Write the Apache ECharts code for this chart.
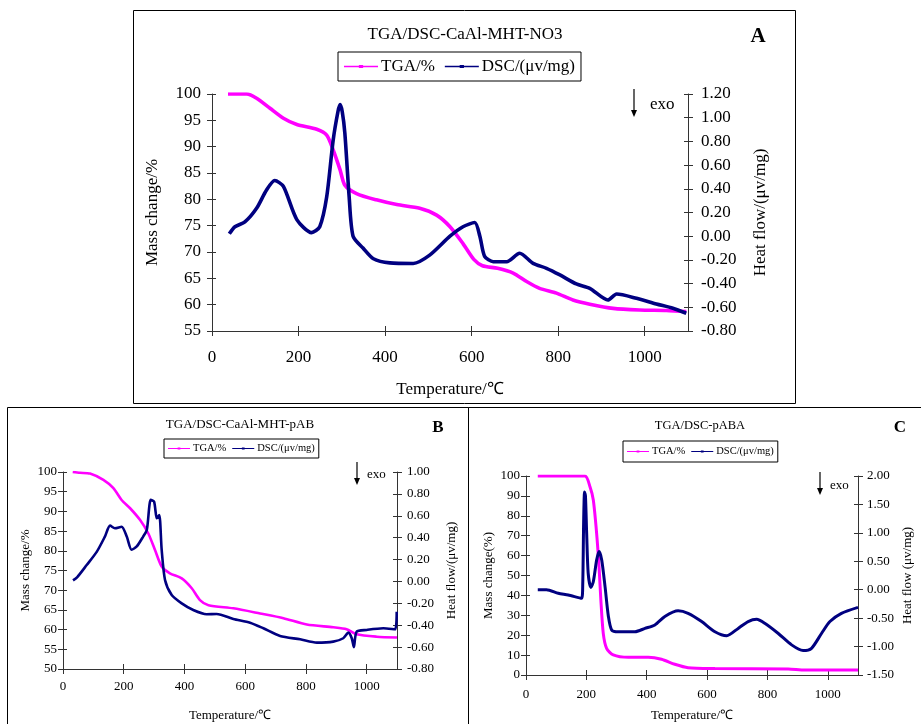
<!DOCTYPE html>
<html>
<head>
<meta charset="utf-8">
<script src="https://cdn.jsdelivr.net/npm/echarts@6/dist/echarts.min.js"></script>
<style>
  html, body { margin: 0; padding: 0; background: #fff; }
  #chart { width: 921px; height: 724px; }
</style>
</head>
<body>
<div id="chart"></div>
<script>
// ---- measured curves: [temperature °C, value] ----
const tgaA = [[37,100],[80,100],[103,99.2],[134,97.3],[165,95.4],[196,94.2],[242,93.3],[265,92.2],[280,89.4],[296,85.6],[307,82.7],[334,81.1],[380,79.9],[427,79.0],[480,78.3],[519,77.0],[550,74.8],[580,71.6],[605,68.6],[625,67.4],[660,66.9],[696,66.0],[727,64.4],[757,63.1],[796,62.2],[834,60.9],[873,60.1],[927,59.3],[988,59.0],[1050,58.9],[1096,58.7]];
const dscA = [[40,0.02],[53,0.08],[76,0.12],[103,0.235],[126,0.39],[145,0.47],[165,0.42],[196,0.14],[230,0.03],[249,0.08],[265,0.33],[280,0.81],[291,1.05],[296,1.11],[301,1.05],[307,0.87],[317,0.33],[326,0.0],[349,-0.1],[373,-0.19],[411,-0.225],[465,-0.23],[503,-0.16],[550,0.0],[580,0.08],[607,0.115],[619,0.0],[630,-0.17],[650,-0.215],[681,-0.215],[711,-0.144],[742,-0.229],[773,-0.271],[804,-0.327],[842,-0.403],[873,-0.44],[915,-0.538],[935,-0.488],[981,-0.524],[1027,-0.572],[1065,-0.608],[1096,-0.65]];

const tgaB = [[32,100],[56,99.8],[89,99.6],[133,98.0],[166,95.9],[193,92.9],[221,90.8],[254,87.8],[281,84.4],[303,80.2],[325,76.0],[352,74.3],[391,73.0],[424,70.5],[451,67.5],[479,66.2],[561,65.4],[649,64.1],[726,62.9],[803,61.3],[890,60.6],[934,60.1],[967,58.8],[1033,58.2],[1100,58.0]];
const dscB = [[33,0.01],[47,0.04],[78,0.15],[111,0.27],[138,0.41],[155,0.51],[171,0.486],[193,0.5],[210,0.41],[226,0.29],[243,0.32],[264,0.41],[276,0.47],[289,0.745],[300,0.73],[309,0.577],[317,0.607],[325,0.288],[336,0.014],[358,-0.124],[391,-0.2],[429,-0.261],[473,-0.3],[506,-0.297],[561,-0.343],[616,-0.377],[660,-0.428],[715,-0.498],[781,-0.529],[836,-0.559],[890,-0.55],[923,-0.519],[940,-0.468],[951,-0.519],[958,-0.6],[967,-0.459],[1000,-0.443],[1055,-0.428],[1094,-0.437],[1099,-0.276]];

const tgaC = [[39,100],[195,100],[212,94.6],[223,87.9],[234,71.2],[242,54.4],[248,37.7],[256,20.9],[267,13.4],[289,10.1],[339,8.9],[405,8.9],[449,7.9],[493,5.4],[537,3.7],[626,3.3],[869,3.0],[924,2.5],[1100,2.5]];
const dscC = [[39,0.0],[68,0.0],[107,-0.063],[140,-0.093],[184,-0.151],[188,0.1],[191,1.2],[194,1.72],[197,1.65],[201,0.99],[206,0.29],[215,0.04],[223,0.14],[234,0.52],[242,0.67],[251,0.52],[262,0.05],[273,-0.47],[284,-0.71],[306,-0.74],[361,-0.74],[394,-0.68],[427,-0.62],[460,-0.47],[504,-0.37],[537,-0.415],[582,-0.56],[626,-0.74],[665,-0.81],[703,-0.68],[736,-0.56],[764,-0.52],[791,-0.59],[836,-0.77],[880,-0.97],[918,-1.07],[946,-1.03],[979,-0.77],[1007,-0.56],[1045,-0.415],[1100,-0.31]];

// ---- axis ranges: [min, max, interval] ----
const tempRange = [0, 1100, 200];
const massRanges = [[55, 100, 5], [50, 100, 5], [0, 100, 10]];
const heatRanges = [[-0.8, 1.2, 0.2], [-0.8, 1.0, 0.2], [-1.5, 2.0, 0.5]];

// ---- text ----
const seriesNames = ['TGA/%', 'DSC/(μv/mg)'];
const titles = ['TGA/DSC-CaAl-MHT-NO3', 'TGA/DSC-CaAl-MHT-pAB', 'TGA/DSC-pABA'];
const letters = ['A', 'B', 'C'];
const massNames = ['Mass change/%', 'Mass change/%', 'Mass change(%)'];
const heatNames = ['Heat flow/(μv/mg)', 'Heat flow/(μv/mg)', 'Heat flow (μv/mg)'];
const tempName = 'Temperature/℃';
const exoText = 'exo';

const curves = [[tgaA, dscA], [tgaB, dscB], [tgaC, dscC]];

// ---- panel layout ----
const FONT = "'Liberation Serif', 'Times New Roman', serif";
const TGA_COLOR = '#ff00ff';
const DSC_COLOR = '#000080';
const AXIS_COLOR = '#333';

const panels = [
  { grid: { left: 212, top: 94, width: 476, height: 237 }, font: 17, nameFont: 17, lw: 3.6,
    xMargin: 18, yLMargin: 11, yRMargin: 13, gapL: 51, gapR: 64, gapB: 50,
    box: [133, 10, 662, 393], title: [465, 35, 17], letter: [758, 37, 21],
    legend: { left: 338, top: 52, font: 17, itemW: 34, gap: 10, pad: [6, 6] },
    arrow: [634, 89, 117], exo: [650, 105] },
  { grid: { left: 63, top: 472, width: 334, height: 197 }, font: 13, nameFont: 13, lw: 2.6,
    xMargin: 11, yLMargin: 6, yRMargin: 10, gapL: 31, gapR: 48, gapB: 40,
    box: [7, 407, 461, 330], title: [240, 425, 13], letter: [438, 428, 17],
    legend: { left: 164, top: 439, font: 10.5, itemW: 22, gap: 6, pad: [4, 4] },
    arrow: [357, 462, 485], exo: [367, 475] },
  { grid: { left: 526, top: 476, width: 332, height: 199 }, font: 13, nameFont: 13, lw: 3,
    xMargin: 13, yLMargin: 6, yRMargin: 9, gapL: 31, gapR: 43, gapB: 34,
    box: [468, 407, 460, 330], title: [700, 426, 12.5], letter: [900, 428, 17],
    legend: { left: 623, top: 441, font: 10.5, itemW: 22, gap: 6, pad: [5, 4] },
    arrow: [820, 472, 495], exo: [830, 486] }
];

const grids = [], xAxes = [], yAxes = [], series = [], legends = [], graphics = [];

function tickFmt(decimals) {
  return v => Number(v).toFixed(decimals);
}

panels.forEach((p, i) => {
  grids.push(Object.assign({ containLabel: false }, p.grid));
  const label = { fontFamily: FONT, fontSize: p.font, color: '#000' };
  const nameStyle = { fontFamily: FONT, fontSize: p.nameFont, color: '#000' };

  // temperature axis (outer ticks + labels) and its inner-tick twin
  const xBase = { type: 'value', gridIndex: i, min: tempRange[0], max: tempRange[1], interval: tempRange[2], splitLine: { show: false } };
  xAxes.push(Object.assign({}, xBase, {
    position: 'bottom',
    axisLine: { show: true, onZero: false, lineStyle: { color: AXIS_COLOR, width: 1 } },
    axisTick: { show: true, inside: false, length: 5, lineStyle: { color: AXIS_COLOR } },
    axisLabel: Object.assign({ margin: p.xMargin, showMaxLabel: false, formatter: tickFmt(0) }, label),
    name: tempName, nameLocation: 'middle', nameGap: p.gapB, nameTextStyle: nameStyle
  }));
  xAxes.push(Object.assign({}, xBase, {
    position: 'bottom',
    axisLine: { show: false, onZero: false },
    axisTick: { show: true, inside: true, length: 5, lineStyle: { color: AXIS_COLOR } },
    axisLabel: { show: false }
  }));

  const m = massRanges[i], h = heatRanges[i];
  const massBase = { type: 'value', gridIndex: i, min: m[0], max: m[1], interval: m[2], splitLine: { show: false } };
  const heatBase = { type: 'value', gridIndex: i, min: h[0], max: h[1], interval: h[2], splitLine: { show: false } };

  yAxes.push(Object.assign({}, massBase, {
    position: 'left',
    axisLine: { show: true, onZero: false, lineStyle: { color: AXIS_COLOR, width: 1 } },
    axisTick: { show: true, inside: false, length: 5, lineStyle: { color: AXIS_COLOR } },
    axisLabel: Object.assign({ margin: p.yLMargin, formatter: tickFmt(0) }, label),
    name: massNames[i], nameLocation: 'middle', nameRotate: 90, nameGap: p.gapL, nameTextStyle: nameStyle
  }));
  yAxes.push(Object.assign({}, massBase, {
    position: 'left', axisLine: { show: false, onZero: false },
    axisTick: { show: true, inside: true, length: 4, lineStyle: { color: AXIS_COLOR } },
    axisLabel: { show: false }
  }));
  yAxes.push(Object.assign({}, heatBase, {
    position: 'right',
    axisLine: { show: true, onZero: false, lineStyle: { color: AXIS_COLOR, width: 1 } },
    axisTick: { show: true, inside: false, length: 5, lineStyle: { color: AXIS_COLOR } },
    axisLabel: Object.assign({ margin: p.yRMargin, formatter: tickFmt(2) }, label),
    name: heatNames[i], nameLocation: 'middle', nameRotate: 90, nameGap: p.gapR, nameTextStyle: nameStyle
  }));
  yAxes.push(Object.assign({}, heatBase, {
    position: 'right', axisLine: { show: false, onZero: false },
    axisTick: { show: true, inside: true, length: 4, lineStyle: { color: AXIS_COLOR } },
    axisLabel: { show: false }
  }));

  const [tga, dsc] = curves[i];
  series.push({
    name: seriesNames[0], type: 'line', xAxisIndex: 2 * i, yAxisIndex: 4 * i,
    data: tga, showSymbol: false, smooth: 0.25, z: 3,
    lineStyle: { color: TGA_COLOR, width: p.lw }, itemStyle: { color: TGA_COLOR }
  });
  series.push({
    name: seriesNames[1], type: 'line', xAxisIndex: 2 * i, yAxisIndex: 4 * i + 2,
    data: dsc, showSymbol: false, smooth: 0.25, z: 4,
    lineStyle: { color: DSC_COLOR, width: p.lw }, itemStyle: { color: DSC_COLOR }
  });

  const L = p.legend;
  legends.push({
    left: L.left, top: L.top, orient: 'horizontal',
    data: seriesNames, selectedMode: false,
    icon: 'path://M0,3.1H40V4.9H0Z M17.5,2.2H22.5V5.8H17.5Z',
    itemWidth: L.itemW, itemHeight: 6, itemGap: L.gap,
    padding: L.pad, borderColor: '#000', borderWidth: 1,
    textStyle: { fontFamily: FONT, fontSize: L.font, color: '#000', padding: [0, 0, 0, -2] }
  });

  // panel frame, title, letter, exo arrow
  graphics.push({ type: 'rect', silent: true, shape: { x: p.box[0] + 0.5, y: p.box[1] + 0.5, width: p.box[2], height: p.box[3] },
    style: { fill: 'none', stroke: '#000', lineWidth: 1 } });
  graphics.push({ type: 'text', silent: true, x: p.title[0], y: p.title[1],
    style: { text: titles[i], font: `${p.title[2]}px ${FONT}`, fill: '#000', align: 'center', verticalAlign: 'middle' } });
  graphics.push({ type: 'text', silent: true, x: p.letter[0], y: p.letter[1],
    style: { text: letters[i], font: `bold ${p.letter[2]}px ${FONT}`, fill: '#000', align: 'center', verticalAlign: 'middle' } });
  const a = p.arrow;
  graphics.push({ type: 'line', silent: true, shape: { x1: a[0], y1: a[1], x2: a[0], y2: a[2] - 4 },
    style: { stroke: '#000', lineWidth: 1.2 } });
  graphics.push({ type: 'polygon', silent: true, shape: { points: [[a[0] - 3, a[2] - 7], [a[0] + 3, a[2] - 7], [a[0], a[2]]] },
    style: { fill: '#000' } });
  graphics.push({ type: 'text', silent: true, x: p.exo[0], y: p.exo[1],
    style: { text: exoText, font: `${p.font}px ${FONT}`, fill: '#000', align: 'left', verticalAlign: 'middle' } });
});

const chart = echarts.init(document.getElementById('chart'), null, { renderer: 'canvas' });
chart.setOption({
  backgroundColor: '#fff',
  animation: false,
  grid: grids,
  xAxis: xAxes,
  yAxis: yAxes,
  legend: legends,
  series: series,
  graphic: graphics
});
</script>
</body>
</html>
